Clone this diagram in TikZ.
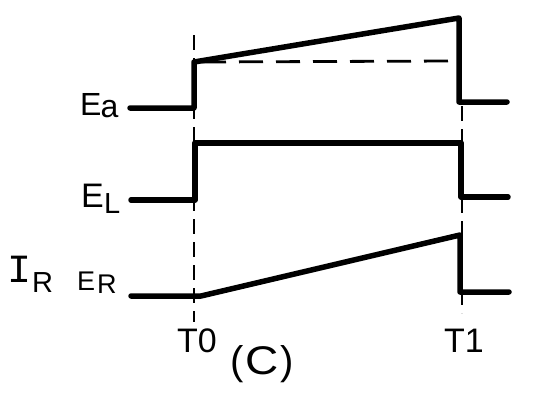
\documentclass[tikz,border=0pt]{standalone}
\usepackage{fontspec}
\setmainfont{Liberation Sans}
\newfontfamily\monofnt{Liberation Mono}
\tikzset{
  wave/.style={line width=5.5pt, line join=round, line cap=round},
  guide/.style={line width=2.5pt, dash pattern=on 15pt off 8pt},
  hguide/.style={line width=2.8pt, dash pattern=on 24pt off 13pt},
  lbl/.style={inner sep=0pt, anchor=base west},
}
\newcommand{\fs}[1]{\fontsize{#1}{#1}\selectfont}
\begin{document}
\begin{tikzpicture}[x=1pt, y=-1pt]
\useasboundingbox (0,0) rectangle (542,418);
% guide lines
\coordinate (t0top) at (194,35);
\coordinate (t0bot) at (194,322);
\coordinate (t1top) at (462,106);
\coordinate (t1bot) at (462,313);
\draw[guide] (t0top) -- (t0bot);
\draw[guide] (t1top) -- (t1bot);
\coordinate (dashA) at (202,62);
\coordinate (dashB) at (451,61);
\draw[hguide] (dashA) -- (dashB);
% Ea
\coordinate (a0) at (130,108);
\coordinate (a1) at (194,108);
\coordinate (a2) at (194,62);
\coordinate (a3) at (459,18);
\coordinate (a4) at (459,102);
\coordinate (a5) at (507,102);
\draw[wave] (a0) -- (a1) -- (a2) -- (a3) -- (a4) -- (a5);
% EL
\coordinate (l0) at (131,200);
\coordinate (l1) at (195,200);
\coordinate (l2) at (195,143);
\coordinate (l3) at (461,143);
\coordinate (l4) at (461,197);
\coordinate (l5) at (508,197);
\draw[wave] (l0) -- (l1) -- (l2) -- (l3) -- (l4) -- (l5);
% ER
\coordinate (r0) at (131,296);
\coordinate (r1) at (201,296);
\coordinate (r2) at (460,235);
\coordinate (r3) at (460,292);
\coordinate (r4) at (509,292);
\draw[wave] (r0) -- (r1) -- (r2) -- (r3) -- (r4);
% labels
\node[lbl] (Ea) at (80,115) {\fs{32}E\kern-1pt\raisebox{-2pt}{a}};
\node[lbl] (EL) at (81,207) {\fs{34}E};
\node[lbl] (ELs) at (104,213) {\fs{29}L};
\node[lbl] (IR) at (7,282) {\monofnt\fs{40}I};
\node[lbl] (IRs) at (32,292) {\fs{29}R};
\node[lbl] (ER) at (77,290) {\fs{27}E};
\node[lbl] (ERs) at (97,293) {\fs{27}R};
\node[lbl] (T0) at (177,352) {\fs{34}T0};
\node[lbl] (T1) at (444,352) {\fs{34}T1};
\node[lbl] (C) at (230,374) {\fs{40}(\kern2pt\scalebox{1.15}[1]{C}\kern2pt)};
\end{tikzpicture}
\end{document}
